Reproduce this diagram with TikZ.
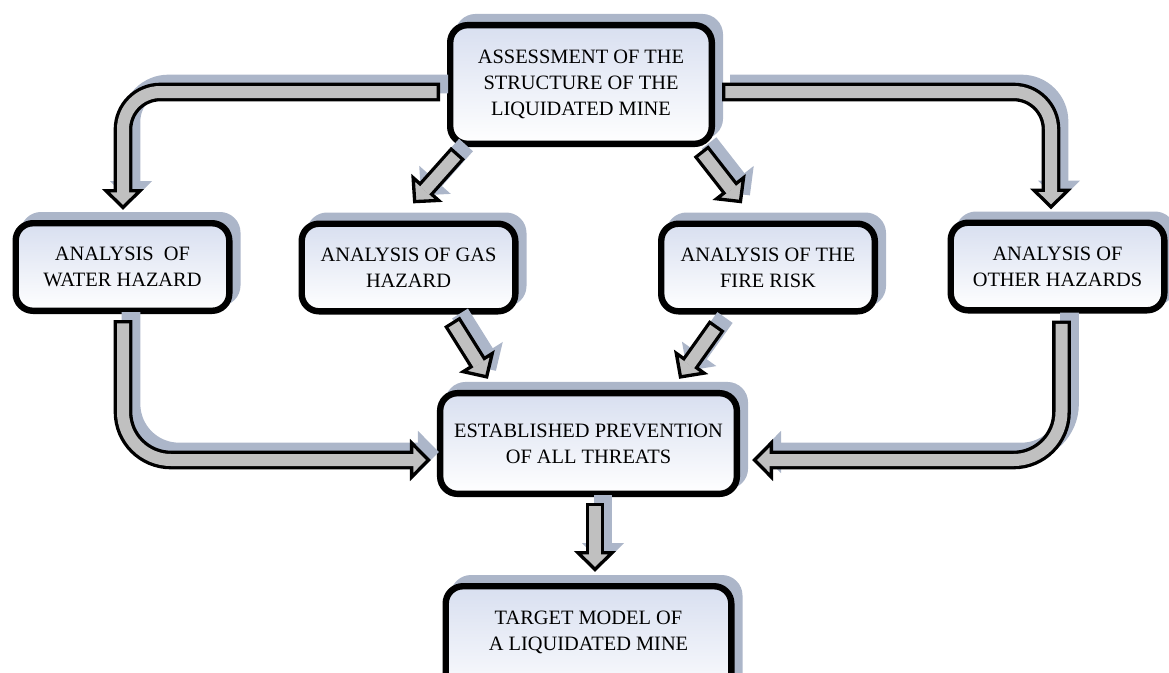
\documentclass[tikz,border=0pt]{standalone}
\usepackage{fontspec}
\setmainfont{Liberation Serif}
\usetikzlibrary{calc,shadows}

\definecolor{boxtop}{RGB}{216,223,240}
\definecolor{shadowcol}{RGB}{172,182,201}
\definecolor{arrowfill}{RGB}{192,192,192}

% block arrow dimensions
\newcommand\shaftout{14pt}   % shaft width with its black edges
\newcommand\shaftin{9pt}     % grey core of the shaft
\newcommand\bord{2.5pt}      % black edge width
\newcommand\hlen{14.5pt}     % tip to head base
\newcommand\hhw{12.8pt}      % half width of the head
\newcommand\htip{1.9pt}      % head outline set back from the tip point

\tikzset{
  boxtext/.style={align=center, font=\fontsize{15.3pt}{19.5pt}\selectfont},
  diagbox/.style={draw=black, line width=4.8pt, rounded corners=13pt,
    top color=boxtop, bottom color=white, inner sep=0pt, boxtext,
    general shadow={fill=shadowcol, draw=shadowcol, line width=4.8pt,
      shadow xshift=6pt, shadow yshift=6pt}},
  smallbox/.style={diagbox, minimum width=160.2pt, minimum height=65.7pt},
  shaftshadow/.style={draw=shadowcol, line width=\shaftout},
  headshadow/.style={fill=shadowcol, draw=shadowcol, line width=\bord},
  shaftedge/.style={draw=black, line width=\shaftout},
  shaftcore/.style={draw=arrowfill, line width=\shaftin},
  headbody/.style={fill=arrowfill, draw=black, line width=\bord, line join=miter},
}

% head of a block arrow: #1 point it comes from, #2 tip
\newcommand\arrowhead[2]{%
  \coordinate (#2-b) at ($(#2)!\hlen!(#1)$);
  \coordinate (#2-t) at ($(#2)!\htip!(#1)$);
  \coordinate (#2-l) at ($(#2-b)!\hhw!90:(#2)$);
  \coordinate (#2-r) at ($(#2-b)!\hhw!-90:(#2)$);
  \coordinate (#2-g) at ($(#2-b)!-1.6pt!(#1)$);
}

% straight block arrow: #1 tail, #2 tip
\newcommand\straightarrow[2]{%
  \arrowhead{#1}{#2}
  \coordinate (#1-s) at ($(#1)!\bord!(#2)$);
  \begin{scope}[transform canvas={shift={(6pt,6pt)}}]
    \draw[shaftshadow] (#1) -- (#2-b);
    \filldraw[headshadow] (#2-l) -- (#2-t) -- (#2-r) -- cycle;
  \end{scope}
  \draw[shaftedge] (#1) -- (#2-b);
  \filldraw[headbody] (#2-l) -- (#2-t) -- (#2-r) -- cycle;
  \draw[shaftcore] (#1-s) -- (#2-g);
}

% bent block arrow: #1 bend radius, #2 tail, #3 corner, #4 tip
\newcommand\bentarrow[4]{%
  \arrowhead{#3}{#4}
  \coordinate (#2-s) at ($(#2)!\bord!(#3)$);
  \begin{scope}[transform canvas={shift={(6pt,6pt)}}]
    \draw[shaftshadow, rounded corners=#1] (#2) -- (#3) -- (#4-b);
    \filldraw[headshadow] (#4-l) -- (#4-t) -- (#4-r) -- cycle;
  \end{scope}
  \draw[shaftedge, rounded corners=#1] (#2) -- (#3) -- (#4-b);
  \filldraw[headbody] (#4-l) -- (#4-t) -- (#4-r) -- cycle;
  \draw[shaftcore, rounded corners=#1] (#2-s) -- (#3) -- (#4-g);
}

\begin{document}
\begin{tikzpicture}[x=0.75pt, y=-0.75pt]
  \useasboundingbox (0,0) rectangle (1169,672);
  \clip (0,0) rectangle (1169,672);

  % boxes
  \node[diagbox, minimum width=196.2pt, minimum height=89pt] (top) at (581,84.5)
    {ASSESSMENT OF THE\\STRUCTURE OF THE\\LIQUIDATED MINE};
  \node[smallbox] (water) at (122.5,267) {ANALYSIS\ \ OF\\WATER HAZARD};
  \node[smallbox] (gas)   at (408.5,267.5) {ANALYSIS OF GAS\\HAZARD};
  \node[smallbox] (fire)  at (768,267.5) {ANALYSIS OF THE\\FIRE RISK};
  \node[smallbox] (other) at (1057.5,266.5) {ANALYSIS OF\\OTHER HAZARDS};
  \node[diagbox, minimum width=222.5pt, minimum height=75.5pt] (est) at (588.5,443.5)
    {ESTABLISHED PREVENTION\\OF ALL THREATS};
  % the last box runs past the lower edge of the page
  \node[diagbox, minimum width=214.2pt, minimum height=90pt, anchor=north,
    label={[boxtext, yshift=10.1pt]center:{TARGET MODEL OF\\A LIQUIDATED MINE}}]
    (target) at (588.5,583) {};

  % arrow end points
  \coordinate (a1) at ($(top.west)+(-7,7.5)$);
  \coordinate (a1tip) at ($(water.north)+(0.5,-10)$);
  \coordinate (a1k) at (a1tip |- a1);
  \coordinate (a2) at ($(top.east)+(7,7.5)$);
  \coordinate (a2tip) at ($(other.north)+(-6.5,-10)$);
  \coordinate (a2k) at (a2tip |- a2);
  \coordinate (a3) at ($(top.south west)+(11,6)$);
  \coordinate (a3tip) at ($(gas.north)+(4.5,-17)$);
  \coordinate (a4) at ($(top.south east)+(-14,4)$);
  \coordinate (a4tip) at ($(fire.north)+(-26,-17)$);
  \coordinate (a5) at ($(gas.south)+(43.5,7)$);
  \coordinate (a5tip) at ($(est.north)+(-100.5,-11)$);
  \coordinate (a6) at ($(fire.south)+(-51,11)$);
  \coordinate (a6tip) at ($(est.north)+(90.5,-11)$);
  \coordinate (a7) at ($(water.south)+(0.5,6)$);
  \coordinate (a7tip) at ($(est.west)+(-6,16.5)$);
  \coordinate (a7k) at (a7 |- a7tip);
  \coordinate (a8) at ($(other.south)+(4,7)$);
  \coordinate (a8tip) at ($(est.east)+(12,16.5)$);
  \coordinate (a8k) at (a8 |- a8tip);
  \coordinate (a9) at ($(est.south)+(6.5,6)$);
  \coordinate (a9tip) at ($(target.north)+(6.5,-11)$);

  % arrows
  \bentarrow{28pt}{a1}{a1k}{a1tip}
  \bentarrow{28pt}{a2}{a2k}{a2tip}
  \straightarrow{a3}{a3tip}
  \straightarrow{a4}{a4tip}
  \straightarrow{a5}{a5tip}
  \straightarrow{a6}{a6tip}
  \bentarrow{36pt}{a7}{a7k}{a7tip}
  \bentarrow{36pt}{a8}{a8k}{a8tip}
  \straightarrow{a9}{a9tip}
\end{tikzpicture}
\end{document}
